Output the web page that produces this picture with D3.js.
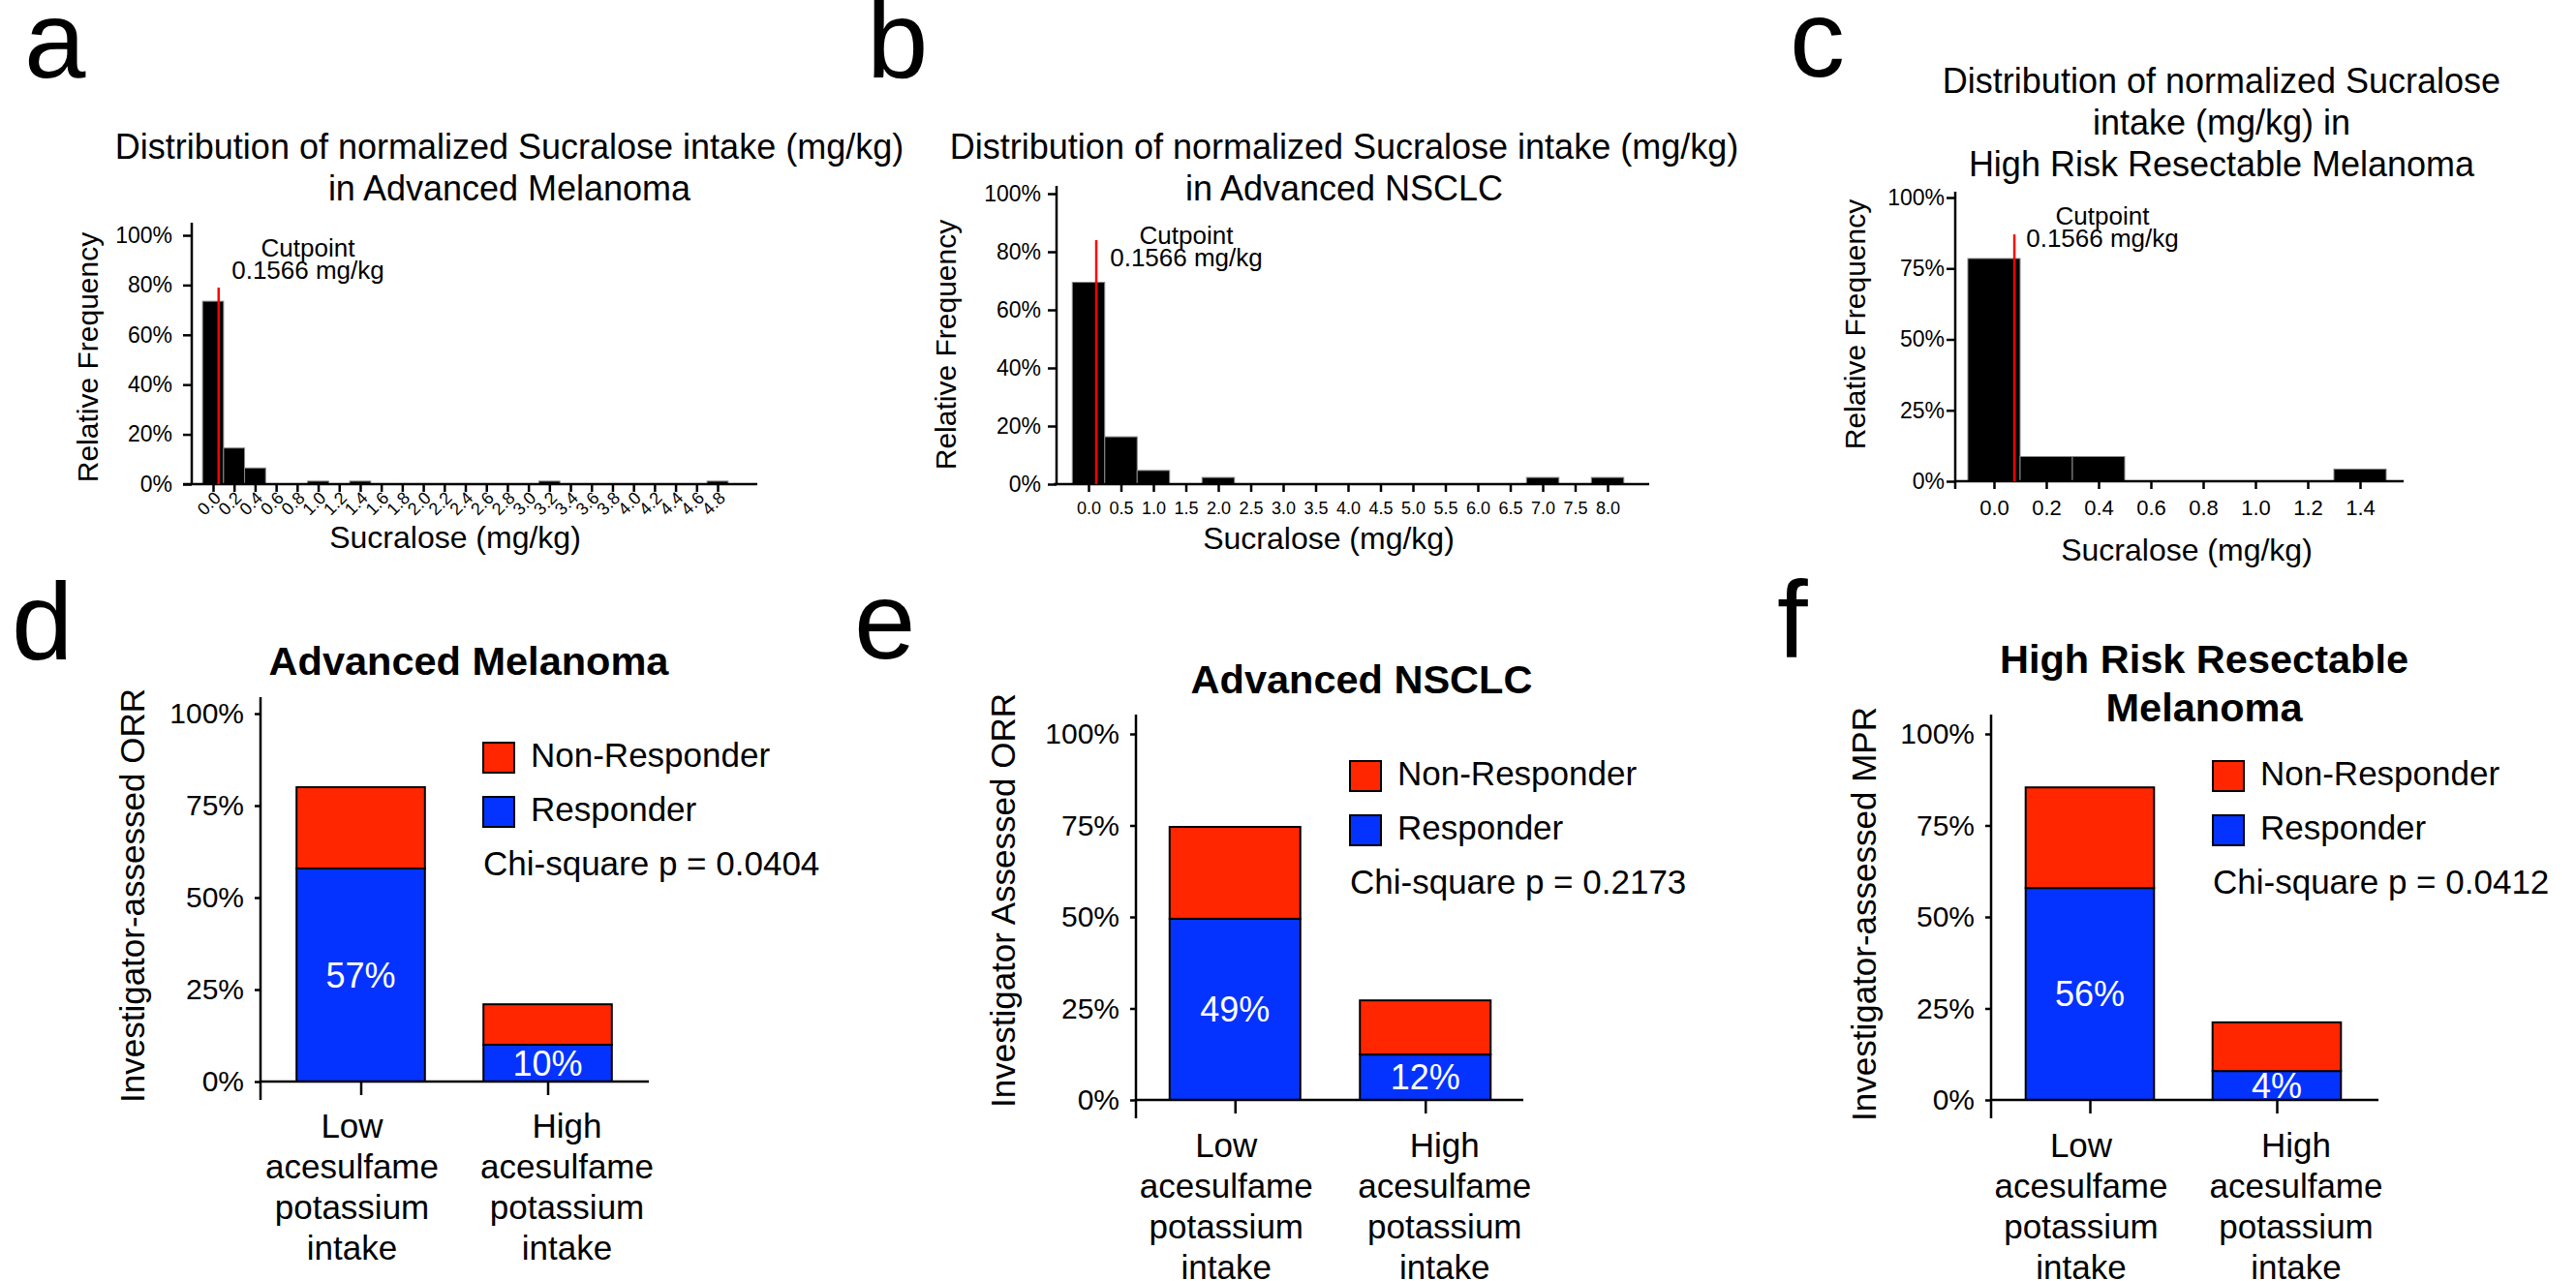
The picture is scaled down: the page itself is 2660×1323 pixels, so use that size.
<!DOCTYPE html>
<meta charset="utf-8">
<style>
    body {
        margin: 0;
        background: #fff;
    }
    text {
        font-family: "Liberation Sans", Arial, sans-serif;
        fill: #000;
    }
</style>
<body>
<script src="https://d3js.org/d3.v7.min.js"></script>
<script>
    const FONT = '"Liberation Sans", Arial, sans-serif'

    // ---- histogram data (a, b, c) ----
    const binsA = [0.0, 0.2, 0.4, 0.6, 0.8, 1.0, 1.2, 1.4, 1.6, 1.8, 2.0, 2.2, 2.4,
                   2.6, 2.8, 3.0, 3.2, 3.4, 3.6, 3.8, 4.0, 4.2, 4.4, 4.6, 4.8]
    const freqA = [0.735, 0.145, 0.065, 0, 0, 0.012, 0, 0.012, 0, 0, 0, 0, 0,
                   0, 0, 0, 0.012, 0, 0, 0, 0, 0, 0, 0, 0.012]

    const binsB = [0.0, 0.5, 1.0, 1.5, 2.0, 2.5, 3.0, 3.5, 4.0, 4.5, 5.0, 5.5, 6.0, 6.5, 7.0, 7.5, 8.0]
    const freqB = [0.695, 0.163, 0.047, 0, 0.023, 0, 0, 0, 0, 0, 0, 0, 0, 0, 0.023, 0, 0.023]

    const binsC = [0.0, 0.2, 0.4, 0.6, 0.8, 1.0, 1.2, 1.4]
    const freqC = [0.785, 0.087, 0.087, 0, 0, 0, 0, 0.043]

    const yTicksA = [0, 0.2, 0.4, 0.6, 0.8, 1.0]
    const yTicksQuarter = [0, 0.25, 0.5, 0.75, 1.0]

    const cutpointText = ["Cutpoint", "0.1566 mg/kg"]
    // where the red cutpoint line sits on each x axis, and how tall it is
    const cutPos = [0.053, 0.12, 0.078]
    const cutHeight = [0.79, 0.84, 0.87]

    // ---- stacked bar data (d, e, f) ----
    const groups = ["Low", "High"]
    const groupLabelLines = [
        ["Low", "acesulfame", "potassium", "intake"],
        ["High", "acesulfame", "potassium", "intake"]
    ]
    const responderD = [0.579, 0.10]
    const nonResponderD = [0.221, 0.11]
    const pctLabelsD = ["57%", "10%"]

    const responderE = [0.495, 0.124]
    const nonResponderE = [0.251, 0.148]
    const pctLabelsE = ["49%", "12%"]

    const responderF = [0.579, 0.079]
    const nonResponderF = [0.275, 0.133]
    const pctLabelsF = ["56%", "4%"]

    const pValues = ["0.0404", "0.2173", "0.0412"]
    const legendLabels = ["Non-Responder", "Responder"]

    const RED = "#ff2600"
    const BLUE = "#0433ff"

    const svg = d3.select("body")
        .append("svg")
        .attr("width", 2660)
        .attr("height", 1323)

    svg.append("rect").attr("width", 2660).attr("height", 1323).attr("fill", "#fff")

    // panel letters
    const letters = [
        {t: "a", x: 25, y: 80}, {t: "b", x: 895, y: 80}, {t: "c", x: 1848, y: 79},
        {t: "d", x: 12, y: 681}, {t: "e", x: 882, y: 680}, {t: "f", x: 1835, y: 679}
    ]
    svg.selectAll(".letter")
        .data(letters)
        .enter().append("text")
        .attr("class", "letter")
        .attr("x", d => d.x)
        .attr("y", d => d.y)
        .attr("font-size", 114)
        .text(d => d.t)

    function multiLine(g, lines, cx, y0, dy, size, weight) {
        g.append("text")
            .attr("text-anchor", "middle")
            .attr("font-size", size)
            .attr("font-weight", weight || "normal")
            .selectAll("tspan")
            .data(lines)
            .enter().append("tspan")
            .attr("x", cx)
            .attr("y", (d, i) => y0 + i * dy)
            .text(d => d)
    }

    function styleAxis(g, size) {
        g.attr("font-family", FONT).attr("font-size", size)
        g.select(".domain").remove()
        g.selectAll("line").attr("stroke", "#000").attr("stroke-width", 2.5)
        g.selectAll("text").attr("fill", "#000")
    }

    function drawHist(c) {
        const g = svg.append("g")

        const x = d3.scaleLinear()
            .domain([c.bins[0], c.bins[c.bins.length - 1]])
            .range(c.xr)
        const y = d3.scaleLinear()
            .domain([0, 1])
            .range([c.axisY, c.yTop])
        const bw = x(c.bins[1]) - x(c.bins[0])

        multiLine(g, c.title, c.titleX, c.titleY, 43, 36)

        // bars
        g.append("g")
            .selectAll("rect")
            .data(c.bins.map((b, i) => ({b: b, f: c.freq[i]})).filter(d => d.f > 0))
            .enter().append("rect")
            .attr("x", d => x(d.b) - bw / 2)
            .attr("width", bw)
            .attr("y", d => y(d.f))
            .attr("height", d => c.axisY - y(d.f))
            .attr("fill", "#000")
            .attr("stroke", "#8a8a8a")
            .attr("stroke-width", 1)

        // y axis ticks
        const gy = g.append("g")
            .attr("transform", `translate(${c.yAxisX},0)`)
            .call(d3.axisLeft(y).tickValues(c.yTicks).tickFormat(d3.format(".0%"))
                .tickSize(9).tickPadding(c.yPad))
        styleAxis(gy, 23)

        // x axis ticks
        const gx = g.append("g")
            .attr("transform", `translate(0,${c.axisY})`)
            .call(d3.axisBottom(x).tickValues(c.bins).tickFormat(d3.format(".1f"))
                .tickSize(8).tickPadding(c.xPad))
        styleAxis(gx, c.xFont)
        if (c.rotate) {
            gx.selectAll("text")
                .attr("y", 0)
                .attr("dy", "0.35em")
                .attr("text-anchor", "end")
                .attr("transform", "translate(4,11) rotate(-45)")
        }

        // axis lines
        g.append("line")
            .attr("x1", c.yAxisX).attr("x2", c.yAxisX)
            .attr("y1", c.yAxisTop).attr("y2", c.yAxisBottom)
            .attr("stroke", "#000").attr("stroke-width", 2.5)
        g.append("line")
            .attr("x1", c.xAxisStart).attr("x2", c.xAxisEnd)
            .attr("y1", c.axisY).attr("y2", c.axisY)
            .attr("stroke", "#000").attr("stroke-width", 2.5)

        // cutpoint line + label
        g.append("line")
            .attr("x1", x(c.cut)).attr("x2", x(c.cut))
            .attr("y1", y(c.cutH)).attr("y2", c.axisY)
            .attr("stroke", "#ff0000").attr("stroke-width", 2.5)
        multiLine(g, cutpointText, c.cutTextX, c.cutTextY, 23, 26)

        // axis titles
        g.append("text")
            .attr("transform", `translate(${c.yLabelX},${c.yLabelY}) rotate(-90)`)
            .attr("text-anchor", "middle")
            .attr("font-size", 30)
            .text("Relative Frequency")
        g.append("text")
            .attr("x", c.xLabelX)
            .attr("y", c.xLabelY)
            .attr("text-anchor", "middle")
            .attr("font-size", 32)
            .text("Sucralose (mg/kg)")
    }

    function drawStack(c) {
        const g = svg.append("g")

        const x = d3.scaleBand()
            .domain(groups)
            .range(c.xr)
            .paddingInner(0.313)
            .paddingOuter(0.1565)
        const y = d3.scaleLinear()
            .domain([0, 1])
            .range([c.axisY, c.yTop])

        multiLine(g, c.title, c.titleX, c.titleY, c.titleDy, 41.5, "bold")

        const rows = groups.map((grp, i) => ({group: grp, resp: c.resp[i], non: c.non[i]}))
        const series = d3.stack().keys(["resp", "non"])(rows)
        const colors = {resp: BLUE, non: RED}

        g.append("g")
            .selectAll("g")
            .data(series)
            .enter().append("g")
            .attr("fill", d => colors[d.key])
            .selectAll("rect")
            .data(d => d)
            .enter().append("rect")
            .attr("x", d => x(d.data.group))
            .attr("width", x.bandwidth())
            .attr("y", d => y(d[1]))
            .attr("height", d => y(d[0]) - y(d[1]))
            .attr("stroke", "#000")
            .attr("stroke-width", 2)

        // responder % labels
        g.selectAll(".pct")
            .data(rows)
            .enter().append("text")
            .attr("class", "pct")
            .attr("x", d => x(d.group) + x.bandwidth() / 2)
            .attr("y", d => (y(0) + y(d.resp)) / 2)
            .attr("dy", "0.35em")
            .attr("text-anchor", "middle")
            .attr("font-size", 36)
            .style("fill", "#fff")
            .text((d, i) => c.pct[i])

        // y axis ticks
        const gy = g.append("g")
            .attr("transform", `translate(${c.yAxisX},0)`)
            .call(d3.axisLeft(y).tickValues(yTicksQuarter).tickFormat(d3.format(".0%"))
                .tickSize(6).tickPadding(11))
        styleAxis(gy, 30)

        // x ticks under bars
        const gx = g.append("g")
            .attr("transform", `translate(0,${c.axisY})`)
            .call(d3.axisBottom(d3.scalePoint().domain(groups)
                    .range([x("Low") + x.bandwidth() / 2, x("High") + x.bandwidth() / 2]))
                .tickSize(14).tickFormat(""))
        styleAxis(gx, 30)

        // axis lines
        g.append("line")
            .attr("x1", c.yAxisX).attr("x2", c.yAxisX)
            .attr("y1", c.yAxisTop).attr("y2", c.yAxisBottom)
            .attr("stroke", "#000").attr("stroke-width", 2.5)
        g.append("line")
            .attr("x1", c.yAxisX).attr("x2", c.xAxisEnd)
            .attr("y1", c.axisY).attr("y2", c.axisY)
            .attr("stroke", "#000").attr("stroke-width", 2.5)

        // category labels
        groups.forEach((grp, i) => {
            multiLine(g, groupLabelLines[i], x(grp) + x.bandwidth() / 2 + c.labelShift[i],
                c.catY, 42, 35)
        })

        // legend
        const legendColors = [RED, BLUE]
        legendLabels.forEach((lab, i) => {
            g.append("rect")
                .attr("x", c.legX)
                .attr("y", c.legY + i * 56)
                .attr("width", 32)
                .attr("height", 31)
                .attr("fill", legendColors[i])
                .attr("stroke", "#000")
                .attr("stroke-width", 2)
            g.append("text")
                .attr("x", c.legX + 49)
                .attr("y", c.legY + 25 + i * 56)
                .attr("font-size", 35)
                .text(lab)
        })
        g.append("text")
            .attr("x", c.legX)
            .attr("y", c.legY + 137)
            .attr("font-size", 35)
            .text("Chi-square p = " + c.p)

        // y title
        g.append("text")
            .attr("transform", `translate(${c.yLabelX},${c.yLabelY}) rotate(-90)`)
            .attr("text-anchor", "middle")
            .attr("font-size", 35)
            .text(c.yLabel)
    }

    drawHist({
        title: ["Distribution of normalized Sucralose intake (mg/kg)", "in Advanced Melanoma"],
        titleX: 526, titleY: 164,
        bins: binsA, freq: freqA, yTicks: yTicksA,
        xr: [220, 741], axisY: 500, yTop: 243,
        yAxisX: 198, yAxisTop: 230, yAxisBottom: 500, xAxisStart: 189, xAxisEnd: 782,
        yPad: 11, xPad: 10, xFont: 18, rotate: true,
        cut: cutPos[0], cutH: cutHeight[0], cutTextX: 318, cutTextY: 265,
        yLabelX: 101, yLabelY: 369, xLabelX: 470, xLabelY: 566
    })

    drawHist({
        title: ["Distribution of normalized Sucralose intake (mg/kg)", "in Advanced NSCLC"],
        titleX: 1388, titleY: 164,
        bins: binsB, freq: freqB, yTicks: yTicksA,
        xr: [1124, 1660], axisY: 500, yTop: 200,
        yAxisX: 1091, yAxisTop: 192, yAxisBottom: 500, xAxisStart: 1088, xAxisEnd: 1703,
        yPad: 7, xPad: 10, xFont: 18, rotate: false,
        cut: cutPos[1], cutH: cutHeight[1], cutTextX: 1225, cutTextY: 252,
        yLabelX: 987, yLabelY: 356, xLabelX: 1372, xLabelY: 567
    })

    drawHist({
        title: ["Distribution of normalized Sucralose", "intake (mg/kg) in", "High Risk Resectable Melanoma"],
        titleX: 2294, titleY: 96,
        bins: binsC, freq: freqC, yTicks: yTicksQuarter,
        xr: [2059, 2437], axisY: 497, yTop: 204,
        yAxisX: 2019, yAxisTop: 198, yAxisBottom: 505, xAxisStart: 2019, xAxisEnd: 2482,
        yPad: 2, xPad: 11, xFont: 22, rotate: false,
        cut: cutPos[2], cutH: cutHeight[2], cutTextX: 2171, cutTextY: 232,
        yLabelX: 1926, yLabelY: 335, xLabelX: 2258, xLabelY: 579
    })

    drawStack({
        title: ["Advanced Melanoma"], titleX: 484, titleY: 697, titleDy: 50,
        resp: responderD, non: nonResponderD, pct: pctLabelsD, p: pValues[0],
        xr: [276, 662], axisY: 1117, yTop: 737,
        yAxisX: 269, yAxisTop: 720, yAxisBottom: 1136, xAxisEnd: 670,
        labelShift: [-9, 20], catY: 1175,
        legX: 499, legY: 767,
        yLabel: "Investigator-assessed ORR", yLabelX: 149, yLabelY: 925
    })

    drawStack({
        title: ["Advanced NSCLC"], titleX: 1406, titleY: 716, titleDy: 50,
        resp: responderE, non: nonResponderE, pct: pctLabelsE, p: pValues[1],
        xr: [1177, 1570], axisY: 1136, yTop: 758,
        yAxisX: 1173, yAxisTop: 738, yAxisBottom: 1155, xAxisEnd: 1573,
        labelShift: [-9, 20], catY: 1195,
        legX: 1394, legY: 786,
        yLabel: "Investigator Assessed ORR", yLabelX: 1048, yLabelY: 930
    })

    drawStack({
        title: ["High Risk Resectable", "Melanoma"], titleX: 2276, titleY: 695, titleDy: 50,
        resp: responderF, non: nonResponderF, pct: pctLabelsF, p: pValues[2],
        xr: [2061.5, 2447.5], axisY: 1136, yTop: 758,
        yAxisX: 2056, yAxisTop: 738, yAxisBottom: 1155, xAxisEnd: 2456,
        labelShift: [-9, 20], catY: 1195,
        legX: 2285, legY: 786,
        yLabel: "Investigator-assessed MPR", yLabelX: 1937, yLabelY: 944
    })
</script>
</body>
